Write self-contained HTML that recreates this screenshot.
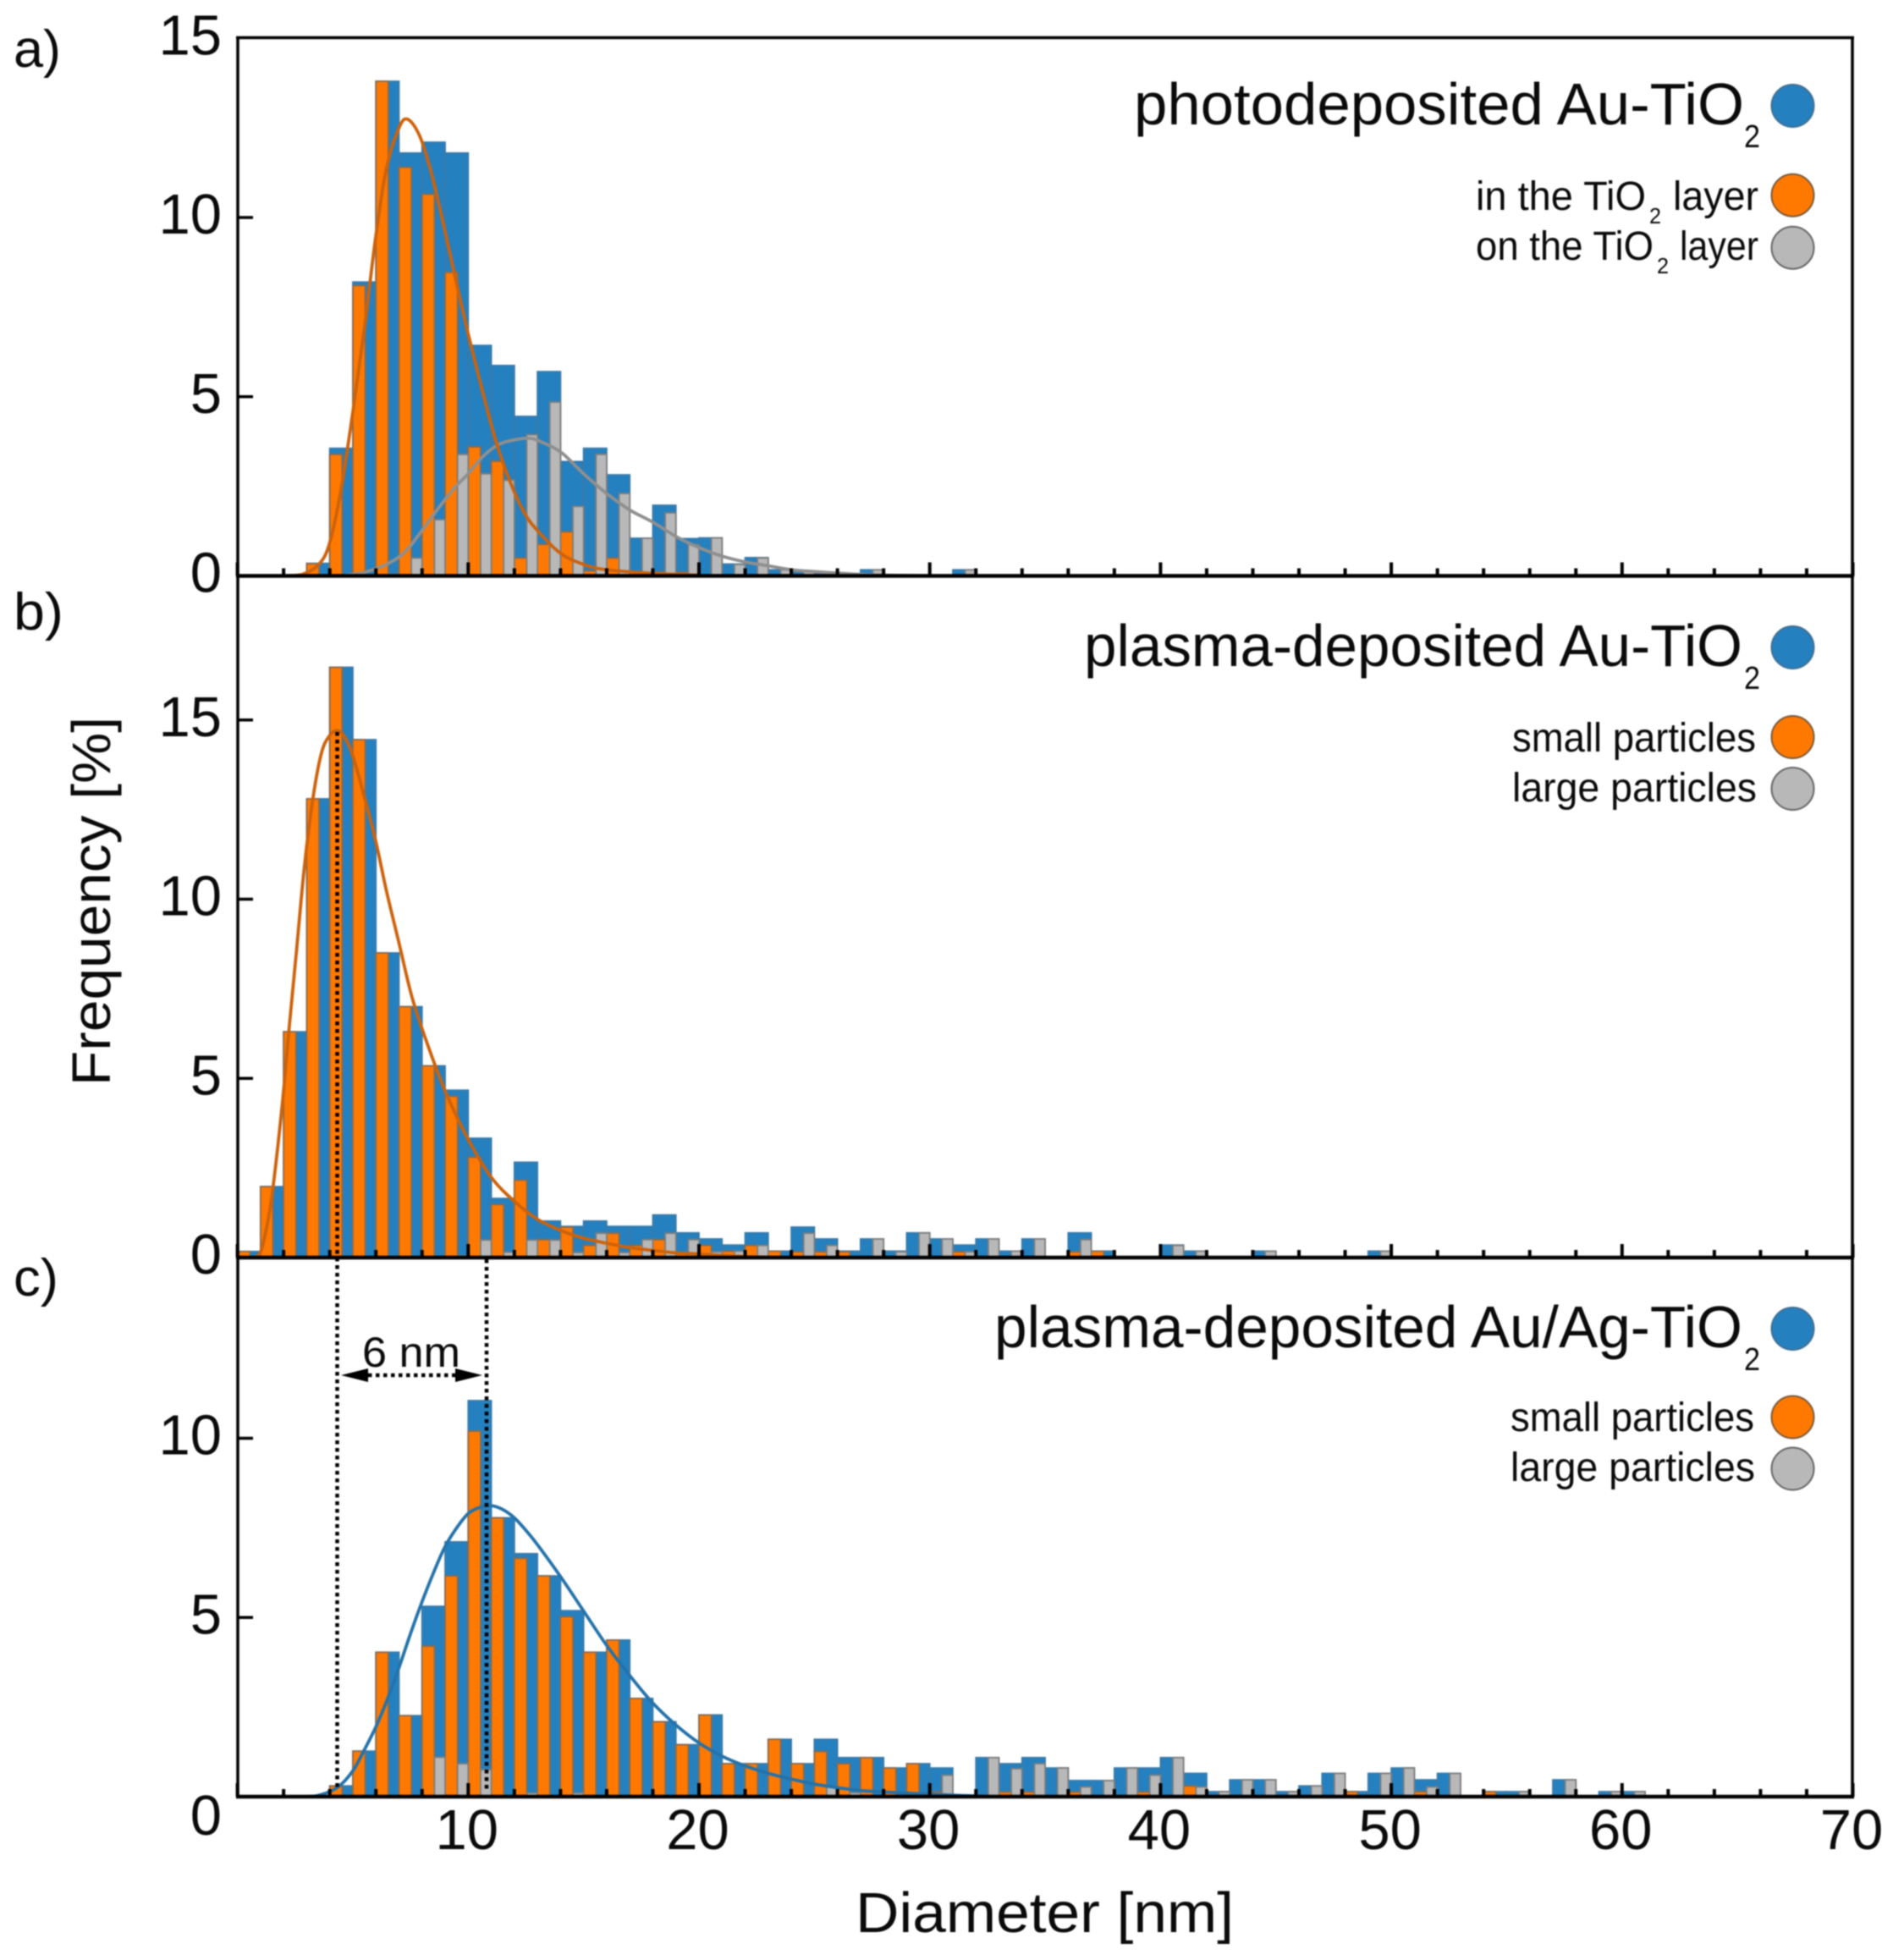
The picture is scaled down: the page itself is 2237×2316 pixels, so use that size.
<!DOCTYPE html>
<html lang="en">
<head>
<meta charset="utf-8">
<title>Particle diameter histograms</title>
<style>
html,body{margin:0;padding:0;background:#fff;}
#chart{display:block;width:2237px;height:2316px;filter:blur(0.9px);}
text{font-family:"Liberation Sans",sans-serif;fill:#0a0a0a;}
</style>
</head>
<body>
<svg id="chart" xmlns="http://www.w3.org/2000/svg" width="2237" height="2316" viewBox="0 0 2237 2316">
  <rect x="0" y="0" width="2237" height="2316" fill="#fff"/>
  <g id="plot"></g>
  <g id="frame"></g>
  <g id="labels"></g>

  <!-- panel letters -->
  <text x="16" y="79" font-size="62" textLength="56" lengthAdjust="spacingAndGlyphs">a)</text>
  <text x="16" y="744" font-size="62" textLength="59" lengthAdjust="spacingAndGlyphs">b)</text>
  <text x="16" y="1531" font-size="62" textLength="53" lengthAdjust="spacingAndGlyphs">c)</text>

  <!-- axis titles -->
  <text transform="translate(130 1283) rotate(-90)" x="0" y="0" font-size="64" textLength="436" lengthAdjust="spacingAndGlyphs">Frequency [%]</text>
  <text x="1011" y="2283" font-size="67" textLength="447" lengthAdjust="spacingAndGlyphs">Diameter [nm]</text>

  <!-- legend panel a -->
  <g>
    <text x="1340" y="147" font-size="70" textLength="721" lengthAdjust="spacingAndGlyphs">photodeposited Au-TiO</text>
    <text x="2061" y="174" font-size="38" textLength="19" lengthAdjust="spacingAndGlyphs">2</text>
    <circle cx="2118.5" cy="125" r="25" fill="#2580bf" stroke="#3f6f92" stroke-width="2"/>
    <text x="1744" y="248" font-size="48" textLength="201" lengthAdjust="spacingAndGlyphs">in the TiO</text>
    <text x="1949" y="264" font-size="26" textLength="14" lengthAdjust="spacingAndGlyphs">2</text>
    <text x="1977" y="248" font-size="48" textLength="101" lengthAdjust="spacingAndGlyphs">layer</text>
    <circle cx="2118.5" cy="230.7" r="25" fill="#ff7900" stroke="#7a5a3a" stroke-width="2"/>
    <text x="1744" y="307" font-size="48" textLength="210" lengthAdjust="spacingAndGlyphs">on the TiO</text>
    <text x="1958" y="323" font-size="26" textLength="14" lengthAdjust="spacingAndGlyphs">2</text>
    <text x="1985" y="307" font-size="48" textLength="93" lengthAdjust="spacingAndGlyphs">layer</text>
    <circle cx="2118.5" cy="292.7" r="25" fill="#b8b8b8" stroke="#666" stroke-width="2"/>
  </g>

  <!-- legend panel b -->
  <g>
    <text x="1281" y="787" font-size="70" textLength="778" lengthAdjust="spacingAndGlyphs">plasma-deposited Au-TiO</text>
    <text x="2061" y="814" font-size="38" textLength="19" lengthAdjust="spacingAndGlyphs">2</text>
    <circle cx="2118.5" cy="765" r="25" fill="#2580bf" stroke="#3f6f92" stroke-width="2"/>
    <text x="1787" y="888" font-size="48" textLength="288" lengthAdjust="spacingAndGlyphs">small particles</text>
    <circle cx="2118.5" cy="871" r="25" fill="#ff7900" stroke="#7a5a3a" stroke-width="2"/>
    <text x="1787" y="947" font-size="48" textLength="289" lengthAdjust="spacingAndGlyphs">large particles</text>
    <circle cx="2118.5" cy="932" r="25" fill="#b8b8b8" stroke="#666" stroke-width="2"/>
  </g>

  <!-- legend panel c -->
  <g>
    <text x="1175" y="1592" font-size="70" textLength="884" lengthAdjust="spacingAndGlyphs">plasma-deposited Au/Ag-TiO</text>
    <text x="2061" y="1619" font-size="38" textLength="19" lengthAdjust="spacingAndGlyphs">2</text>
    <circle cx="2118.5" cy="1570" r="25" fill="#2580bf" stroke="#3f6f92" stroke-width="2"/>
    <text x="1785" y="1691" font-size="48" textLength="288" lengthAdjust="spacingAndGlyphs">small particles</text>
    <circle cx="2118.5" cy="1674.5" r="25" fill="#ff7900" stroke="#7a5a3a" stroke-width="2"/>
    <text x="1785" y="1750" font-size="48" textLength="289" lengthAdjust="spacingAndGlyphs">large particles</text>
    <circle cx="2118.5" cy="1735.5" r="25" fill="#b8b8b8" stroke="#666" stroke-width="2"/>
  </g>

  <!-- annotation -->
  <g>
    <line x1="398.5" y1="865" x2="398.5" y2="2112" stroke="#000" stroke-width="4.5" stroke-dasharray="4.5 4.5"/>
    <line x1="575" y1="1488" x2="575" y2="2118" stroke="#000" stroke-width="4.5" stroke-dasharray="4.5 4.5"/>
    <line x1="435" y1="1625" x2="538" y2="1625" stroke="#000" stroke-width="4.5" stroke-dasharray="4.5 4.5"/>
    <polygon points="403,1625 435,1617 435,1633" fill="#000"/>
    <polygon points="570,1625 538,1617 538,1633" fill="#000"/>
    <text x="428" y="1615" font-size="50" textLength="116" lengthAdjust="spacingAndGlyphs">6 nm</text>
  </g>
</svg>

<script>
// ---------- Panel a data (frequency % per 1 nm bin, bin index = lower edge in nm) ----------
const blueA = [0,0,0,.35,3.56,8.2,13.8,11.8,12.1,11.8,6.43,5.87,4.45,5.7,3.19,3.56,2.82,1.05,1.97,1.04,1.06,.33,.51,.17,.1,.08,.04,.17,0,0,0,.17];
const orangeA = [0,0,0,.34,3.39,8.1,13.8,11.4,10.65,8.47,3.6,3.2,.5,.88,1.23,.14,.5,.1,.1,.1,0,0,0,0,0,0,0,0,0,0,0,0];
const greyA = [0,0,0,0,0,0,.05,.5,1.57,3.39,2.85,2.67,3.94,4.85,1.94,3.39,2.3,1.05,1.76,.87,1.06,.32,.5,.17,.12,.08,.04,.17,0,0,0,.17];
const fitOrangeAx = [2,2.8,3.55,4,4.5,5,5.5,6,6.45,7,7.38,7.9,8.4,9,9.5,10,10.6,11.2,11.8,12.45,13.05,14,15,16,18,20];
const fitOrangeAy = [0,.04,.34,.93,2.45,4.57,6.9,9.5,11.35,12.5,12.74,12.27,11.25,9.6,8.15,6.75,5.2,3.76,2.65,1.74,1.23,.63,.32,.17,.07,.02];
const fitGreyAx = [4.5,5.5,6.45,7.2,7.9,8.65,9.4,10,10.6,11.3,11.95,12.6,13.05,14,15,16,17,18,19,20,21,22,23,24,25,26,27,28,30];
const fitGreyAy = [0,.1,.32,.63,1.18,1.84,2.45,2.85,3.31,3.66,3.79,3.84,3.77,3.46,2.85,2.3,1.84,1.5,1.1,.79,.55,.39,.28,.17,.12,.08,.04,.02,0];

// ---------- Panel b data ----------
const blueB = [.17,1.98,6.3,12.8,16.47,14.45,8.5,7,5.35,4.67,3.33,1.65,2.66,1.02,.87,1.02,.87,.87,1.19,.69,.52,.35,.69,.18,.85,.52,.18,.52,.18,.69,.52,.35,.52,.18,.52,0,.69,.18,0,0,.35,.18,0,0,.18,0,0,0,0,.18];
const orangeB = [.17,1.98,6.3,12.8,16.47,14.45,8.5,7,5.35,4.5,2.8,1.48,2.16,.5,.85,.34,.68,.34,.5,.14,.34,.18,.34,.18,.16,.16,.16,0,0,0,0,.16,0,0,0,0,.16,.18,0,0,0,0,0,0,0,0,0,0,0,0];
const greyB = [0,0,0,0,0,0,0,0,0,.05,.49,.15,.49,.49,.14,.68,.14,.5,.68,.5,.16,.18,.34,0,.68,.34,0,.52,.16,.69,.52,.16,.52,.18,.52,0,.5,0,0,0,.34,.18,0,0,.18,0,0,0,0,.18];
const fitOrangeBx = [.6,.95,1.2,1.5,1.93,2.24,2.55,2.9,3.28,3.65,4,4.3,4.6,5,5.5,6,6.45,7,7.55,8.17,9,10,11,12,13,14,15,16,17,18,19,20,21,22,24];
const fitOrangeBy = [0,.09,.64,1.75,4.2,6.4,8.5,10.9,12.85,14.1,14.57,14.7,14.57,14.0,12.85,11.6,10.25,8.78,7.3,6.07,4.65,3.3,2.24,1.57,1.07,.76,.54,.4,.28,.2,.13,.1,.06,.03,0];

// ---------- Panel c data ----------
const blueC = [0,0,0,0,.3,1.27,4.03,2.26,5.31,7.11,11.05,7.78,6.78,6.16,5.19,4.03,4.37,2.74,2.09,1.45,2.28,.92,.92,1.6,.92,1.6,1.09,1.09,.8,.92,.8,0,1.09,.92,1.09,.8,.45,.45,.8,.8,1.09,.65,.14,.47,.47,.14,.3,.65,.14,.65,.8,.47,.65,0,.14,.14,0,.47,0,.14,.14];
const orangeC = [0,0,0,0,.3,1.27,4.03,2.26,4.2,6.16,10.2,7.78,6.65,6.16,5.02,4.03,4.37,2.74,2.09,1.45,2.28,.92,.92,1.6,.92,1.26,.92,1.09,.8,.92,.13,0,0,.13,.13,0,.13,0,0,.13,0,.3,0,0,0,0,0,0,.14,0,0,.14,0,0,.14,0,0,0,0,0,0];
const greyC = [0,0,0,0,0,0,0,0,1.1,.92,.75,0,.1,0,.1,0,0,0,0,0,0,0,0,0,0,.27,.11,0,0,0,.6,0,1.09,.78,.92,.8,.27,.45,.8,.6,1.09,.27,.14,.47,.47,.14,.3,.65,0,.65,.8,.27,.65,0,0,.14,0,.47,0,.14,.14];
const fitBlueCx = [0,2.8,3.64,4.38,5,5.47,6,6.5,7,7.5,8,8.53,9,9.5,10,10.5,10.98,11.47,12,12.5,13,14,15,16,17,18,19,20,21,22,23,24,25,26,27,28,29,30,31,32,32.4];
const fitBlueCy = [0,0,.06,.28,.72,1.27,1.95,2.72,3.6,4.55,5.44,6.3,6.98,7.5,7.9,8.07,8.12,8.02,7.78,7.43,7.03,6.14,5.18,4.22,3.38,2.61,2.0,1.5,1.13,.86,.65,.49,.35,.25,.17,.13,.1,.07,.04,.02,0];

// ---------- Axis tick values ----------
const xMajorLabels = [10,20,30,40,50,60,70];
const xTickValues = [0,2,4,6,8,10,12,14,16,18,20,22,24,26,28,30,32,34,36,38,40,42,44,46,48,50,52,54,56,58,60,62,64,66,68,70];
const yTicksA = [0,5,10,15];
const yTicksB = [0,5,10,15];
const yTicksC = [0,5,10];

// ---------- Axis functions ----------
const X0 = 280.6, XSCALE = 27.27;
const YSCALE = 42.35;
const BASE_A = 680.5, BASE_B = 1486, BASE_C = 2123;
const XRIGHT = 2189, YTOP = 44.5;
const BLUE = '#2580bf', ORANGE = '#ff7900', GREY = '#b8b8b8';
function xPos(v){ return X0 + XSCALE * v; }
function yPos(v, base){ return base - YSCALE * v; }

const NS = 'http://www.w3.org/2000/svg';
const plot = document.getElementById('plot');
const frame = document.getElementById('frame');
const labels = document.getElementById('labels');
function make(tag, parent, attrs){
  const el = document.createElementNS(NS, tag);
  for (const k in attrs) el.setAttribute(k, attrs[k]);
  parent.appendChild(el);
  return el;
}

function drawBars(values, base, kind, panel){
  values.forEach(function(v, n){
    if (!v) return;
    let x0 = xPos(n), x1 = xPos(n + 1), fill = BLUE, stroke = '#3a7aa8';
    if (kind === 'orange'){ x1 = xPos(n + 0.5) + 1; fill = ORANGE; stroke = '#8a6a50'; }
    if (kind === 'grey'){ x0 = xPos(n + 0.5) + 1; fill = GREY; stroke = '#7d7d7d'; }
    const top = yPos(v, base);
    const el = make('rect', plot, {x: x0, y: top, width: x1 - x0, height: base - top, fill: fill, stroke: stroke, 'stroke-width': 1.8});
    
    
  });
}

function drawCurve(xs, ys, base, color, name){
  const pts = xs.map(function(x, i){ return [xPos(x), yPos(ys[i], base)]; });
  let d = 'M' + pts[0][0].toFixed(2) + ' ' + pts[0][1].toFixed(2);
  for (let i = 0; i < pts.length - 1; i++){
    const p0 = pts[Math.max(i - 1, 0)], p1 = pts[i], p2 = pts[i + 1], p3 = pts[Math.min(i + 2, pts.length - 1)];
    const c1x = p1[0] + (p2[0] - p0[0]) / 6, c1y = Math.min(base, p1[1] + (p2[1] - p0[1]) / 6);
    const c2x = p2[0] - (p3[0] - p1[0]) / 6, c2y = Math.min(base, p2[1] - (p3[1] - p1[1]) / 6);
    d += 'C' + c1x.toFixed(2) + ' ' + c1y.toFixed(2) + ' ' + c2x.toFixed(2) + ' ' + c2y.toFixed(2) + ' ' + p2[0].toFixed(2) + ' ' + p2[1].toFixed(2);
  }
  const el = make('path', plot, {d: d, fill: 'none', stroke: color, 'stroke-width': 3.8});
  
  
}

function drawAxisTicks(base, yTicks, panel){
  xTickValues.forEach(function(v){
    const len = v % 10 === 0 ? 16 : 9;
    const el = make('line', frame, {x1: xPos(v), x2: xPos(v), y1: base, y2: base - len, stroke: '#000', 'stroke-width': 4});
    
    
  });
  yTicks.forEach(function(v){
    if (v > 0 && yPos(v, base) > YTOP + 6){
      const el = make('line', frame, {x1: 281, x2: 299, y1: yPos(v, base), y2: yPos(v, base), stroke: '#000', 'stroke-width': 3.5});
      
      
    }
    const isBottomZero = panel === 'c' && v === 0;
    const lab = make('text', labels, {x: 262, y: isBottomZero ? base + 45 : yPos(v, base) + 19, 'font-size': 67, 'text-anchor': 'end'});
    lab.textContent = String(v);
    
    
  });
}

// Panel a
drawBars(blueA, BASE_A, 'blue', 'a');
drawBars(orangeA, BASE_A, 'orange', 'a');
drawBars(greyA, BASE_A, 'grey', 'a');
drawCurve(fitGreyAx, fitGreyAy, BASE_A, '#8f8f8f', 'fit-curve-on-layer');
drawCurve(fitOrangeAx, fitOrangeAy, BASE_A, '#cc620c', 'fit-curve-in-layer');

// Panel b
drawBars(blueB, BASE_B, 'blue', 'b');
drawBars(orangeB, BASE_B, 'orange', 'b');
drawBars(greyB, BASE_B, 'grey', 'b');
drawCurve(fitOrangeBx, fitOrangeBy, BASE_B, '#cc620c', 'fit-curve-small-b');

// Panel c
drawBars(blueC, BASE_C, 'blue', 'c');
drawBars(orangeC, BASE_C, 'orange', 'c');
drawBars(greyC, BASE_C, 'grey', 'c');
drawCurve(fitBlueCx, fitBlueCy, BASE_C, '#2472aa', 'fit-curve-total-c');

// Frame
[[YTOP, 'top-axis-line', 3.5], [BASE_A, 'baseline-a', 4.5], [BASE_B, 'baseline-b', 4.5], [BASE_C, 'baseline-c', 4.5]].forEach(function(h){
  const el = make('line', frame, {x1: 279, x2: XRIGHT + 2, y1: h[0], y2: h[0], stroke: '#000', 'stroke-width': h[2]});
  
  
});
[[281, 'left-axis-line'], [XRIGHT, 'right-axis-line']].forEach(function(v){
  const el = make('line', frame, {x1: v[0], x2: v[0], y1: YTOP - 1, y2: BASE_C + 2, stroke: '#000', 'stroke-width': 3.5});
  
  
});
drawAxisTicks(BASE_A, yTicksA, 'a');
drawAxisTicks(BASE_B, yTicksB, 'b');
drawAxisTicks(BASE_C, yTicksC, 'c');

// x tick labels
xMajorLabels.forEach(function(v){
  const lab = make('text', labels, {x: xPos(v) - 1.5, y: 2185, 'font-size': 67, 'text-anchor': 'middle'});
  lab.textContent = String(v);
  
  
});
</script>
</body>
</html>
